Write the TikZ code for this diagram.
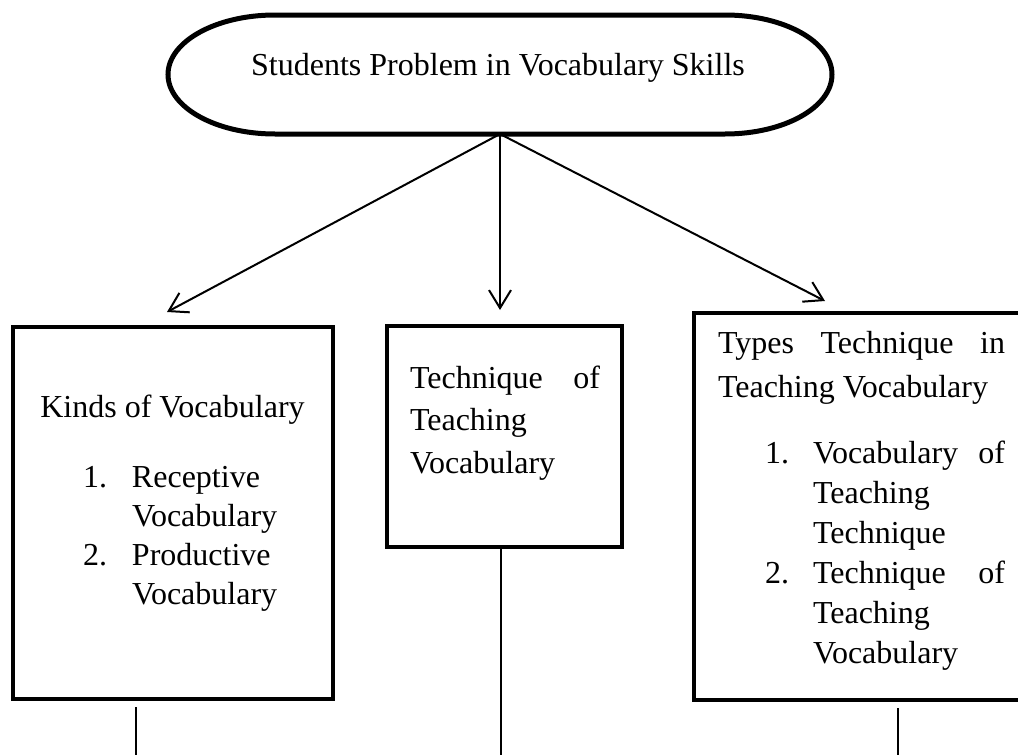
\documentclass[tikz,border=0pt]{standalone}
\usepackage{fontspec}
\setmainfont{Liberation Serif}
\usetikzlibrary{arrows.meta,calc}

\tikzset{
  box/.style={draw, line width=4pt, rectangle, outer sep=0pt, inner sep=0pt},
  arr/.style={line width=2pt, -{Straight Barb[length=18pt,width=22pt]}},
  link/.style={line width=2pt},
  stadium/.style={line width=5pt},
  txt/.style={inner sep=0pt, outer sep=0pt, font=\fontsize{32}{39}\selectfont},
}

\begin{document}
\begin{tikzpicture}[x=1pt,y=-1pt]
  \useasboundingbox (0,0) rectangle (1018,755);
  \clip (0,0) rectangle (1018,755);

  % top terminator
  \node[minimum width=664pt, minimum height=119pt, outer sep=0pt, inner sep=0pt] (top) at (500,74.5) {};
  \draw[stadium]
    ($(top.north west)+(107,0)$) -- ($(top.north east)+(-107,0)$)
    arc[start angle=90, end angle=-90, x radius=107pt, y radius=59.5pt]
    -- ($(top.south west)+(107,0)$)
    arc[start angle=270, end angle=90, x radius=107pt, y radius=59.5pt]
    -- cycle;
  \node[txt, anchor=base] (topText) at (498,75) {Students Problem in Vocabulary Skills};

  % the three boxes
  \node[box, minimum width=320pt, minimum height=372pt] (kinds) at (173,513) {};
  \node[box, minimum width=235pt, minimum height=221pt] (tech) at (504.5,436.5) {};
  \node[box, minimum width=346pt, minimum height=387pt] (types) at (867,506.5) {};

  % box texts
  \node[txt, anchor=base west] (kindsText) at (39,417) {\parbox[t]{294pt}{\fontsize{32}{39}\selectfont
    \makebox[267pt]{Kinds of Vocabulary}\\[31pt]
    \hspace*{44pt}\makebox[49pt][l]{1.}Receptive\\
    \hspace*{93pt}Vocabulary\\
    \hspace*{44pt}\makebox[49pt][l]{2.}Productive\\
    \hspace*{93pt}Vocabulary}};

  \node[txt, anchor=base west] (techText) at (410,388) {\parbox[t]{190pt}{\fontsize{32}{42.5}\selectfont
    Technique\hfill of\\
    Teaching\\
    Vocabulary}};

  \node[txt, anchor=base west] (typesText) at (718,353) {\parbox[t]{287pt}{\fontsize{32}{40}\selectfont
    Types\hfill Technique\hfill in\\[4pt]
    Teaching Vocabulary\\[26pt]
    \hspace*{47pt}\makebox[48pt][l]{1.}Vocabulary\hfill of\\
    \hspace*{95pt}Teaching\\
    \hspace*{95pt}Technique\\
    \hspace*{47pt}\makebox[48pt][l]{2.}Technique\hfill of\\
    \hspace*{95pt}Teaching\\
    \hspace*{95pt}Vocabulary}};

  % arrows from the top shape
  \draw[arr] (top.south) -- ($(kinds.north)+(-6,-15)$);
  \draw[arr] (top.south) -- ($(tech.north)+(-4.5,-16)$);
  \draw[arr] (top.south) -- ($(types.north west)+(131,-12)$);

  % lines leaving the boxes
  \coordinate (kindsEnd) at (136,755);
  \coordinate (techEnd) at (501,755);
  \coordinate (typesEnd) at (898,755);
  \draw[link] ($(kinds.south -| kindsEnd)+(0,8)$) -- (kindsEnd);
  \draw[link] (tech.south -| techEnd) -- (techEnd);
  \draw[link] ($(types.south -| typesEnd)+(0,8)$) -- (typesEnd);
\end{tikzpicture}
\end{document}
